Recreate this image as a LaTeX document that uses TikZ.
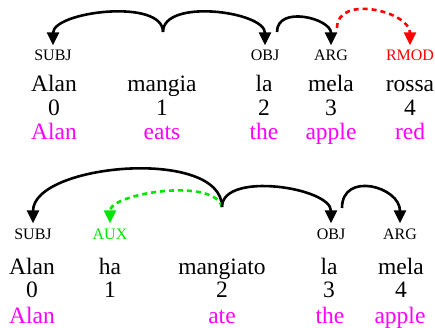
\documentclass[tikz,border=0pt]{standalone}
\usepackage{fontspec}
\setmainfont{Liberation Serif}
\usepackage{tikz}
\usetikzlibrary{arrows.meta}
\definecolor{glossCol}{RGB}{255,0,255}
\definecolor{auxCol}{RGB}{0,230,0}
\tikzstyle{word} = [font=\fontsize{23.5}{26}\selectfont, 
			anchor=base, 
			inner sep=0pt]
\tikzstyle{gloss} = [word, 
			text=glossCol]
\tikzstyle{rel} = [font=\fontsize{16}{18}\selectfont, 
			anchor=base, 
			inner sep=0pt, 
			outer sep=5pt]
\tikzstyle{line} = [draw, line width=2.6pt, -{Triangle[length=13pt, width=12pt]}]
\tikzstyle{dline} = [line, dash pattern=on 5pt off 4pt]

\begin{document}
\begin{tikzpicture}[x=1pt, y=-1pt]
	\useasboundingbox (0,0) rectangle (435,328);
	% first sentence
	\node [rel] (subjA) at (53,61) {SUBJ};
	\node [rel] (objA) at (265,61) {OBJ};
	\node [rel] (argA) at (331,61) {ARG};
	\node [rel, text=red] (rmodA) at (410,61) {RMOD};
	\node [word] (alanA) at (54,92) {Alan};
	\node [word] (mangia) at (162,92) {mangia};
	\node [word] (laA) at (264,92) {la};
	\node [word] (melaA) at (331,92) {mela};
	\node [word] (rossa) at (410,92) {rossa};
	\node [word] (nZeroA) at (54,116) {0};
	\node [word] (nOneA) at (162,116) {1};
	\node [word] (nTwoA) at (264,116) {2};
	\node [word] (nThreeA) at (331,116) {3};
	\node [word] (nFourA) at (410,116) {4};
	\node [gloss] (gAlanA) at (54,140) {Alan};
	\node [gloss] (gEats) at (162,140) {eats};
	\node [gloss] (gTheA) at (264,140) {the};
	\node [gloss] (gAppleA) at (331,140) {apple};
	\node [gloss] (gRed) at (410,140) {red};
	\coordinate (mangiaHead) at (163,32);
	\coordinate (laHeadA) at (277,32);
	\coordinate (melaHead) at (337,28);
	\path [line] (mangiaHead) .. controls +(0,-34) and +(0,-34) .. (subjA.north);
	\path [line] (mangiaHead) .. controls +(0,-34) and +(0,-34) .. (objA.north);
	\path [line] (laHeadA) .. controls +(0,-27) and +(0,-27) .. (argA.north);
	\path [dline, red] (melaHead) .. controls +(0,-34) and +(0,-34) .. (rmodA.north);
	% second sentence
	\node [rel] (subjB) at (33,239) {SUBJ};
	\node [rel, text=auxCol] (aux) at (110,239) {AUX};
	\node [rel] (objB) at (331,239) {OBJ};
	\node [rel] (argB) at (400,239) {ARG};
	\node [word] (alanB) at (32,274) {Alan};
	\node [word] (ha) at (110,274) {ha};
	\node [word] (mangiato) at (222,274) {mangiato};
	\node [word] (laB) at (329,274) {la};
	\node [word] (melaB) at (401,274) {mela};
	\node [word] (nZeroB) at (32,297) {0};
	\node [word] (nOneB) at (110,297) {1};
	\node [word] (nTwoB) at (222,297) {2};
	\node [word] (nThreeB) at (329,297) {3};
	\node [word] (nFourB) at (401,297) {4};
	\node [gloss] (gAlanB) at (32,323) {Alan};
	\node [gloss] (gAte) at (222,323) {ate};
	\node [gloss] (gTheB) at (330,323) {the};
	\node [gloss] (gAppleB) at (400,323) {apple};
	\coordinate (mangiatoHead) at (222,207);
	\coordinate (laHeadB) at (342,208);
	\path [line] (mangiatoHead) .. controls +(0,-60) and +(0,-60) .. (subjB.north);
	\path [dline, auxCol] (mangiatoHead) .. controls +(-8,-30) and +(0,-30) .. (aux.north);
	\path [line] (mangiatoHead) .. controls +(0,-36) and +(0,-36) .. (objB.north);
	\path [line] (laHeadB) .. controls +(0,-37) and +(0,-37) .. (argB.north);
\end{tikzpicture}
\end{document}
